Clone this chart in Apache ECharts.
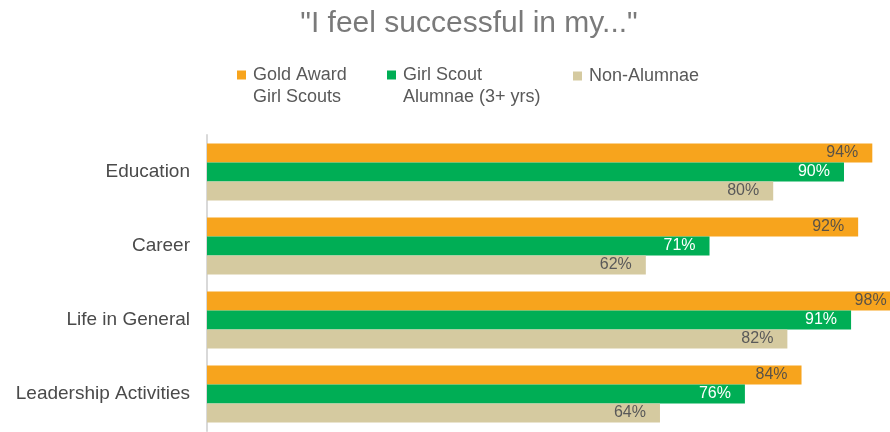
<!DOCTYPE html>
<html>
<head>
<meta charset="utf-8">
<script src="https://cdn.jsdelivr.net/npm/echarts@6/dist/echarts.min.js"></script>
<style>
html,body{margin:0;padding:0;background:#fff;}
#chart{width:890px;height:432px;}
</style>
</head>
<body>
<div id="chart"></div>
<script>
var categories = ['Education', 'Career', 'Life in General', 'Leadership Activities'];
var seriesNames = ['Gold Award Girl Scouts', 'Girl Scout Alumnae (3+ yrs)', 'Non-Alumnae'];
var legendLabels = [' \nGold Award\nGirl Scouts', ' \nGirl Scout\nAlumnae (3+ yrs)', 'Non-Alumnae'];
var goldAward = [94, 92, 98, 84];
var alumnae = [90, 71, 91, 76];
var nonAlumnae = [80, 62, 82, 64];

var colors = ['#F7A41D', '#00AE55', '#D5CAA0'];
var labelColors = ['#5a5247', '#ffffff', '#595959'];
var values = [goldAward, alumnae, nonAlumnae];
var FONT = '"Liberation Sans", Arial, sans-serif';

var chart = echarts.init(document.getElementById('chart'));

var legendLefts = [237, 387, 573];
var legendTops = [42, 42, 65];
var legends = seriesNames.map(function (n, i) {
  return {
    left: legendLefts[i], top: legendTops[i], padding: 0,
    itemWidth: 9, itemHeight: 9, icon: 'rect',
    data: [n],
    formatter: function () { return legendLabels[i]; },
    textStyle: {
      fontFamily: FONT, fontSize: 18, color: '#595959', lineHeight: 22,
      padding: [0, 0, 0, 2]
    }
  };
});

var series = seriesNames.map(function (n, i) {
  return {
    name: n, type: 'bar', data: values[i],
    barWidth: 19, barGap: '0%', clip: false,
    itemStyle: { color: colors[i] },
    label: {
      show: true, position: 'insideRight', distance: 14,
      formatter: '{c}%', fontFamily: FONT, fontSize: 16, color: labelColors[i]
    }
  };
});

chart.setOption({
  animation: false,
  backgroundColor: '#ffffff',
  title: {
    text: '"I feel successful in my..."',
    left: 464, top: 4, textAlign: 'center',
    textStyle: { fontFamily: FONT, fontSize: 30, fontWeight: 'normal', color: '#7a7a7a' }
  },
  legend: legends,
  grid: { left: 207, right: 0, top: 135, bottom: 1, containLabel: false },
  xAxis: {
    type: 'value', min: 0, max: 96.5,
    axisLabel: { show: false }, splitLine: { show: false },
    axisLine: { show: false }, axisTick: { show: false }
  },
  yAxis: {
    type: 'category', data: categories, inverse: true,
    axisLine: { show: true, lineStyle: { color: '#D9D9D9', width: 2 } },
    axisTick: { show: false },
    axisLabel: { fontFamily: FONT, fontSize: 19, color: '#4a4a4a', margin: 17 }
  },
  series: series
});
</script>
</body>
</html>
